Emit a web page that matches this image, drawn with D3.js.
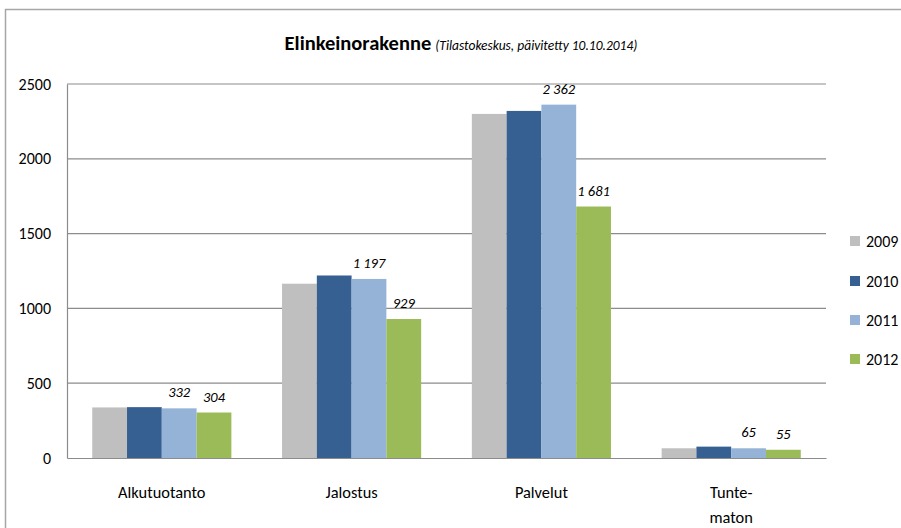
<!DOCTYPE html>
<html><head><meta charset="utf-8">
<script src="https://cdn.jsdelivr.net/npm/d3@7"></script>
<style>body{margin:0;background:#fff}svg{display:block}</style>
</head><body>
<svg id="c" width="901" height="528"></svg>
<script>
const categories = ["Alkutuotanto", "Jalostus", "Palvelut", "Tunte-\nmaton"];
const seriesNames = ["2009", "2010", "2011", "2012"];
const v2009 = [338, 1165, 2300, 65];
const v2010 = [340, 1220, 2320, 76];
const v2011 = [332, 1197, 2362, 65];
const v2012 = [304, 929, 1681, 55];
const showLabel = { "2011": true, "2012": true };
const yTicks = [0, 500, 1000, 1500, 2000, 2500];
const colors = ["#BFBFBF", "#376092", "#95B3D7", "#9BBB59"];
const titleMain = "Elinkeinorakenne";
const titleSub = "(Tilastokeskus, päivitetty 10.10.2014)";

(function () {
const values = [v2009, v2010, v2011, v2012];
const FONT = "Carlito, Lato, 'Open Sans', sans-serif";
const svg = d3.select("#c").style("font-family", FONT);

// outer frame
svg.append("rect").attr("x", 5.5).attr("y", 9.5).attr("width", 905).attr("height", 530)
  .attr("fill", "none").attr("stroke", "#a6a6a6").attr("stroke-width", 1.5);

const pL = 67, pR = 826, pT = 84, pB = 458;
const x0 = d3.scaleBand().domain(categories).range([pL, pR]).paddingInner(0.267).paddingOuter(0.133);
const x1 = d3.scaleBand().domain(seriesNames).range([0, x0.bandwidth()]).padding(0);
const y = d3.scaleLinear().domain([0, 2500]).range([pB, pT]);

// gridlines
svg.append("g").selectAll("line").data(yTicks.filter(t => t > 0)).join("line")
  .attr("x1", pL).attr("x2", pR).attr("y1", d => y(d)).attr("y2", d => y(d))
  .attr("stroke", "#8c8c8c").attr("stroke-width", 1.2);

// bars
categories.forEach((c, ci) => {
  seriesNames.forEach((s, si) => {
    const v = values[si][ci];
    svg.append("rect")
      .attr("x", x0(c) + x1(s)).attr("width", x1.bandwidth())
      .attr("y", y(v)).attr("height", y(0) - y(v)).attr("fill", colors[si]);
    if (showLabel[s]) {
      svg.append("text").attr("x", x0(c) + x1(s) + x1.bandwidth() / 2)
        .attr("y", y(v) - 11).attr("text-anchor", "middle")
        .attr("font-size", 14.5).attr("font-style", "italic").attr("fill", "#000")
        .text(d3.format(",")(v).replace(/,/g, " "));
    }
  });
});

// axes
const yAxis = svg.append("g").attr("transform", `translate(${pL},0)`)
  .call(d3.axisLeft(y).tickValues(yTicks).tickSize(0).tickPadding(16).tickFormat(d3.format("d")));
yAxis.select(".domain").attr("stroke", "#8c8c8c").attr("stroke-width", 1.2);
yAxis.selectAll("text").attr("font-size", 16).attr("fill", "#000").style("font-family", FONT);

const xAxis = svg.append("g").attr("transform", `translate(0,${pB})`)
  .call(d3.axisBottom(x0).tickSize(0).tickFormat(""));
xAxis.select(".domain").attr("stroke", "#8c8c8c").attr("stroke-width", 1.2);
categories.forEach(c => {
  const lines = c.split("\n");
  const t = svg.append("text").attr("text-anchor", "middle").attr("font-size", 16.4).attr("fill", "#000");
  lines.forEach((ln, i) => {
    t.append("tspan").attr("x", x0(c) + x0.bandwidth() / 2).attr("y", 498 + i * 25).text(ln);
  });
});

// title
const title = svg.append("text").attr("x", 461).attr("y", 50).attr("text-anchor", "middle");
title.append("tspan").attr("font-size", 20.5).attr("font-weight", "bold").text(titleMain);
title.append("tspan").attr("font-size", 13.5).attr("font-style", "italic").attr("dx", 4).text(titleSub);

// legend
const legendY = [241, 281, 320, 359];
seriesNames.forEach((s, i) => {
  svg.append("rect").attr("x", 850).attr("y", legendY[i] - 5).attr("width", 10).attr("height", 10).attr("fill", colors[i]);
  svg.append("text").attr("x", 866).attr("y", legendY[i] + 6).attr("font-size", 16).attr("fill", "#000").text(s);
});
})();
</script>
</body></html>
